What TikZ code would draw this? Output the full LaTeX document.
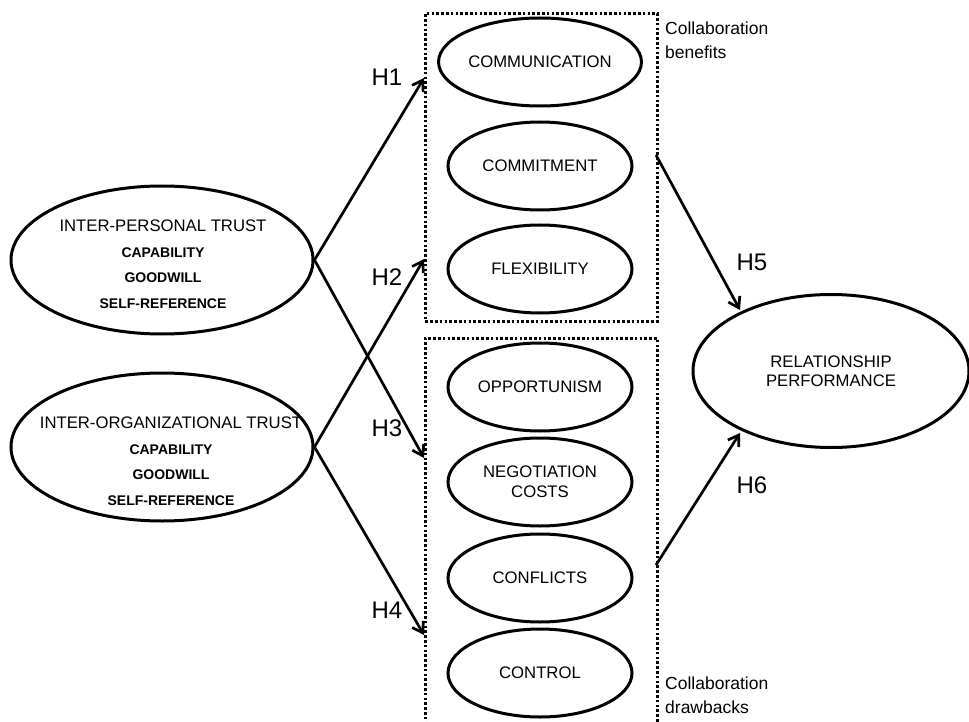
\documentclass[tikz,border=0pt]{standalone}
\usepackage{fontspec}
\setmainfont{Liberation Sans}
\usetikzlibrary{shapes.geometric,arrows.meta}
\begin{document}
\begin{tikzpicture}[x=1pt,y=-1pt,
 ell/.style={ellipse,draw,line width=3pt,inner sep=0pt,minimum width=184pt,minimum height=88pt,font=\fontsize{16.7}{20}\selectfont,align=center},
 bigell/.style={ellipse,draw,line width=3pt,inner sep=0pt,minimum width=302pt,minimum height=148pt},
 trusttxt/.style={align=center,font=\fontsize{16.7}{25.5}\selectfont,inner sep=0pt},
 grp/.style={draw,line width=2.7pt,dash pattern=on 2.6pt off 2.2pt,inner sep=0pt,anchor=north west,minimum width=232pt},
 conn/.style={line width=2.7pt,-{Straight Barb[length=10pt,width=13pt]}},
 hlab/.style={font=\fontsize{24}{24}\selectfont,inner sep=0pt},
 note/.style={font=\fontsize{17.5}{23.5}\selectfont,align=left,anchor=north west,inner sep=0pt}]
\useasboundingbox (0,0) rectangle (969,722);
\clip (0,0) rectangle (969,722);
% group boxes
\node[grp,minimum height=308pt] (ben) at (424,12) {};
\node[grp,minimum height=420pt] (draw) at (424,337) {};
% left ellipses
\node[bigell] (ip) at (162,260) {};
\node[trusttxt] (iptxt) at (163,264) {INTER-PERSONAL TRUST\\ \fontsize{14}{25.5}\selectfont\bfseries CAPABILITY\\ \fontsize{14}{25.5}\selectfont\bfseries GOODWILL\\ \fontsize{14}{25.5}\selectfont\bfseries SELF-REFERENCE};
\node[bigell] (io) at (162,447) {};
\node[trusttxt] (iotxt) at (171,461) {INTER-ORGANIZATIONAL TRUST\\ \fontsize{14}{25.5}\selectfont\bfseries CAPABILITY\\ \fontsize{14}{25.5}\selectfont\bfseries GOODWILL\\ \fontsize{14}{25.5}\selectfont\bfseries SELF-REFERENCE};
% column ellipses
\node[ell] (comm) at (540,62) {COMMUNICATION};
\node[ell] (commit) at (540,166) {COMMITMENT};
\node[ell] (flex) at (540,269) {FLEXIBILITY};
\node[ell] (opp) at (540,387) {OPPORTUNISM};
\node[ell] (neg) at (540,482) {NEGOTIATION\\COSTS};
\node[ell] (conf) at (540,578) {CONFLICTS};
\node[ell] (ctrl) at (540,673) {CONTROL};
% outcome
\node[ellipse,draw,line width=3pt,inner sep=0pt,minimum width=276pt,minimum height=153pt,align=center,font=\fontsize{16.7}{19}\selectfont] (rp) at (831,371) {RELATIONSHIP\\PERFORMANCE};
% notes
\node[note] (bennote) at (665,22) {Collaboration\\benefits};
\node[note] (drawnote) at (665,677) {Collaboration\\drawbacks};
% connector endpoints
\coordinate (t1) at (424,78);
\coordinate (t2) at (424,259);
\coordinate (t3) at (424,458);
\coordinate (t4) at (424,635);
\coordinate (s5) at (656,155);
\coordinate (e5) at (740,310);
\coordinate (s6) at (656,565);
\coordinate (e6) at (740,433);
\draw[conn] (ip.east) -- (t1);
\draw[conn] (io.east) -- (t2);
\draw[conn] (ip.east) -- (t3);
\draw[conn] (io.east) -- (t4);
\draw[conn] (s5) -- (e5);
\draw[conn] (s6) -- (e6);
% labels
\node[hlab] (h1) at (387,77) {H1};
\node[hlab] (h2) at (387,277) {H2};
\node[hlab] (h3) at (387,428) {H3};
\node[hlab] (h4) at (387,610) {H4};
\node[hlab] (h5) at (752,262) {H5};
\node[hlab] (h6) at (752,485) {H6};
\end{tikzpicture}
\end{document}
